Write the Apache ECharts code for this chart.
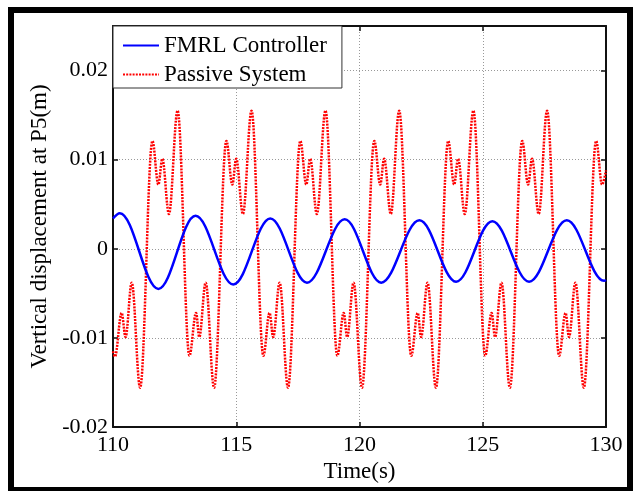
<!DOCTYPE html>
<html>
<head>
<meta charset="utf-8">
<script src="https://cdn.jsdelivr.net/npm/echarts@6/dist/echarts.min.js"></script>
<style>
html,body{margin:0;padding:0;background:#fff;}
#chart{width:634px;height:491px;}
</style>
</head>
<body>
<div id="chart"></div>
<script>
// ---- Data (turning points of each curve) ----
const seriesNames = ['FMRL Controller', 'Passive System'];

// FMRL Controller: time (s) and displacement (m)
const fmrlTime = [110.00, 110.28, 111.84, 113.35, 114.88, 116.38, 117.87, 119.40, 120.88, 122.43, 123.92, 125.39, 126.88, 128.41, 129.92, 130.00];
const fmrlDisp = [0.0034, 0.0040, -0.0045, 0.0037, -0.0040, 0.0034, -0.0038, 0.0033, -0.0038, 0.0032, -0.0037, 0.0031, -0.0037, 0.0032, -0.0036, -0.0035];

// Passive System: time (s) and displacement (m)
const passiveTime = [
  110.00, 110.08, 110.35, 110.51, 110.76, 111.10,
  111.60, 111.84, 112.00, 112.27, 112.62,
  113.10, 113.37, 113.50, 113.76, 114.10,
  114.60, 114.84, 115.00, 115.27, 115.62,
  116.10, 116.35, 116.50, 116.76, 117.10,
  117.60, 117.84, 118.00, 118.27, 118.62,
  119.10, 119.36, 119.50, 119.76, 120.10,
  120.60, 120.84, 121.00, 121.27, 121.61,
  122.10, 122.36, 122.50, 122.76, 123.10,
  123.60, 123.84, 124.00, 124.27, 124.62,
  125.10, 125.36, 125.50, 125.76, 126.10,
  126.60, 126.84, 127.00, 127.27, 127.61,
  128.10, 128.36, 128.50, 128.76, 129.10,
  129.60, 129.84, 130.00
];
const passiveDisp = [
  -0.0115, -0.0121, -0.0072, -0.0099, -0.0038, -0.0156,
  0.0121, 0.0072, 0.0101, 0.0039, 0.0155,
  -0.0120, -0.0072, -0.0099, -0.0038, -0.0156,
  0.0121, 0.0072, 0.0101, 0.0039, 0.0155,
  -0.0120, -0.0072, -0.0099, -0.0038, -0.0156,
  0.0121, 0.0072, 0.0101, 0.0039, 0.0155,
  -0.0120, -0.0072, -0.0099, -0.0038, -0.0156,
  0.0121, 0.0072, 0.0101, 0.0039, 0.0155,
  -0.0120, -0.0072, -0.0099, -0.0038, -0.0156,
  0.0121, 0.0072, 0.0101, 0.0039, 0.0155,
  -0.0120, -0.0072, -0.0099, -0.0038, -0.0156,
  0.0121, 0.0072, 0.0101, 0.0039, 0.0155,
  -0.0120, -0.0072, -0.0099, -0.0038, -0.0156,
  0.0121, 0.0072, 0.0088
];

// Axis ranges / ticks
const xMin = 110, xMax = 130, xStep = 5;
const yMin = -0.02, yMax = 0.025, yStep = 0.01;
const xTitle = 'Time(s)';
const yTitle = 'Vertical displacement at P5(m)';

function zip(a, b) { return a.map((v, i) => [v, b[i]]); }

const FONT = 'Liberation Serif';
const chart = echarts.init(document.getElementById('chart'), null, {renderer: 'canvas'});

const axisLineStyle = {color: '#111', width: 2};
const tickStyle = {show: true, inside: true, length: 5, lineStyle: {color: '#111', width: 1.5}};

chart.setOption({
  backgroundColor: '#fff',
  animation: false,
  grid: {left: 113, top: 26, width: 493, height: 401, containLabel: false},
  legend: {
    orient: 'vertical',
    left: 113, top: 26,
    padding: [8, 15, 2, 9],
    itemGap: 6,
    itemWidth: 36,
    itemHeight: 24,
    backgroundColor: '#fff',
    borderColor: '#333',
    borderWidth: 1,
    z: 10,
    itemStyle: {opacity: 0, borderWidth: 0},
    textStyle: {fontFamily: FONT, fontSize: 23, color: '#000'},
    data: seriesNames
  },
  xAxis: [{
    type: 'value', min: xMin, max: xMax, interval: xStep, position: 'bottom',
    name: xTitle, nameLocation: 'middle', nameGap: 27,
    nameTextStyle: {fontFamily: FONT, fontSize: 23, color: '#000'},
    axisLine: {show: true, onZero: false, lineStyle: axisLineStyle},
    axisTick: tickStyle,
    axisLabel: {fontFamily: FONT, fontSize: 22, color: '#000', margin: 7},
    splitLine: {show: true, lineStyle: {color: '#999', width: 1, type: [1, 2]}}
  }, {
    type: 'value', min: xMin, max: xMax, interval: xStep, position: 'top',
    axisLine: {show: true, onZero: false, lineStyle: axisLineStyle},
    axisTick: tickStyle,
    axisLabel: {show: false},
    splitLine: {show: false}
  }],
  yAxis: [{
    type: 'value', min: yMin, max: yMax, interval: yStep, position: 'left',
    name: yTitle, nameLocation: 'middle', nameGap: 54,
    nameTextStyle: {fontFamily: FONT, fontSize: 23, color: '#000'},
    axisLine: {show: true, onZero: false, lineStyle: axisLineStyle},
    axisTick: tickStyle,
    axisLabel: {fontFamily: FONT, fontSize: 22, color: '#000', margin: 5, showMaxLabel: false},
    splitLine: {show: true, lineStyle: {color: '#999', width: 1, type: [1, 2]}}
  }, {
    type: 'value', min: yMin, max: yMax, interval: yStep, position: 'right',
    axisLine: {show: true, onZero: false, lineStyle: axisLineStyle},
    axisTick: tickStyle,
    axisLabel: {show: false},
    splitLine: {show: false}
  }],
  series: [{
    name: seriesNames[0],
    type: 'line',
    data: zip(fmrlTime, fmrlDisp),
    showSymbol: false, symbol: 'none',
    smooth: 0.36, smoothMonotone: 'x',
    lineStyle: {color: '#0000ff', width: 2.5},
    itemStyle: {color: '#0000ff'},
    z: 3
  }, {
    name: seriesNames[1],
    type: 'line',
    data: zip(passiveTime, passiveDisp),
    showSymbol: false, symbol: 'none',
    smooth: 0.36, smoothMonotone: 'x',
    lineStyle: {color: '#ff0000', width: 2.5, type: [2, 1.2]},
    itemStyle: {color: '#ff0000'},
    z: 2
  }],
  graphic: [{
    type: 'rect',
    shape: {x: 11, y: 10, width: 619, height: 480},
    style: {fill: 'none', stroke: '#000', lineWidth: 6},
    silent: true,
    z: 100
  }]
});
</script>
</body>
</html>
